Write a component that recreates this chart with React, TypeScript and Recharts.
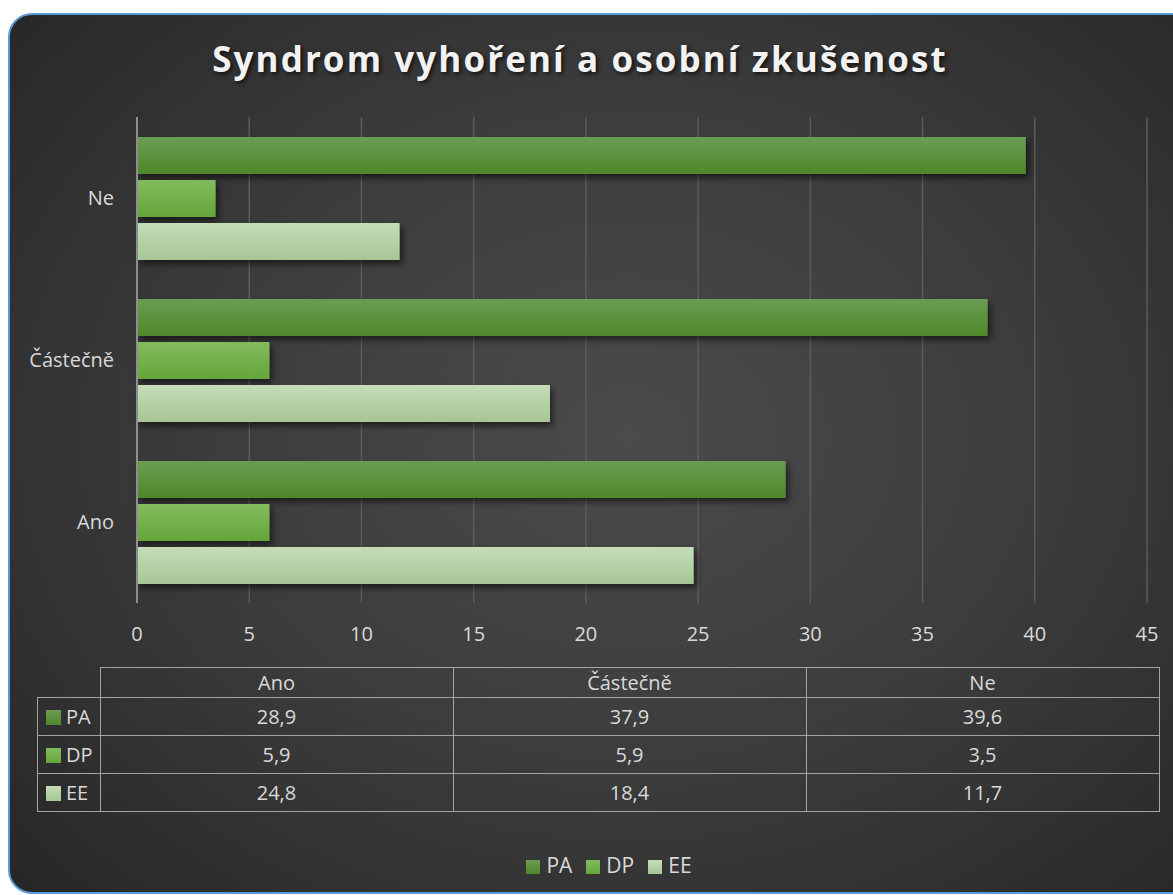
import { BarChart, Bar, XAxis, YAxis, CartesianGrid, Legend } from 'recharts'

// values
const categories = ['Ano', 'Částečně', 'Ne']
const seriesNames = ['PA', 'DP', 'EE']
const paValues = [28.9, 37.9, 39.6]
const dpValues = [5.9, 5.9, 3.5]
const eeValues = [24.8, 18.4, 11.7]
const xTicks = [0, 5, 10, 15, 20, 25, 30, 35, 40, 45]

const seriesValues: Record<string, number[]> = { PA: paValues, DP: dpValues, EE: eeValues }

const data = categories.map((category, i) => ({
  category,
  PA: paValues[i],
  DP: dpValues[i],
  EE: eeValues[i],
}))

const gradients: Record<string, [string, string]> = {
  PA: ['#6c9c54', '#4d8829'],
  DP: ['#82bb5e', '#65a63a'],
  EE: ['#c4ddb7', '#a7c596'],
}

const textColor = '#d9d9d9'
const lineColor = '#a3a3a3'
const fmt = (v: number) => v.toFixed(1).replace('.', ',')

export default function App() {
  const cellBorder = `1.5px solid ${lineColor}`
  return (
    <div
      style={{
        position: 'fixed',
        left: 0,
        top: 0,
        width: 1173,
        height: 895,
        overflow: 'hidden',
        background: '#ffffff',
        fontFamily: "'Open Sans', sans-serif",
      }}
    >
      <style>{`body{margin:0;overflow:hidden}`}</style>

      {/* rounded dark panel */}
      <div
        style={{
          position: 'absolute',
          left: 8,
          top: 13,
          width: 1190,
          height: 881,
          boxSizing: 'border-box',
          borderRadius: 24,
          border: '2px solid #5b9bd5',
          background: 'radial-gradient(ellipse 70% 75% at 52% 48%, #4b4b4b 0%, #3c3c3c 50%, #272727 100%)',
        }}
      />

      <svg width={0} height={0} style={{ position: 'absolute' }}>
        <defs>
          {seriesNames.map(name => (
            <linearGradient key={name} id={`grad${name}`} x1="0" y1="0" x2="0" y2="1">
              <stop offset="0%" stopColor={gradients[name][0]} />
              <stop offset="100%" stopColor={gradients[name][1]} />
            </linearGradient>
          ))}
          <filter id="barShadow" x="-10%" y="-30%" width="130%" height="190%">
            <feDropShadow dx="3" dy="4" stdDeviation="3" floodColor="#000" floodOpacity="0.55" />
          </filter>
        </defs>
      </svg>

      <div
        style={{
          position: 'absolute',
          left: 0,
          width: 1160,
          top: 35,
          textAlign: 'center',
          color: '#f2f2f2',
          fontWeight: 700,
          fontSize: 35,
          letterSpacing: 2.1,
          textShadow: '2px 2px 4px rgba(0,0,0,0.7)',
        }}
      >
        Syndrom vyhoření a osobní zkušenost
      </div>

      <div style={{ position: 'absolute', left: 0, top: 0 }}>
        <BarChart
          width={1173}
          height={895}
          data={data}
          layout="vertical"
          margin={{ top: 117, right: 26, bottom: 262, left: 0 }}
          barSize={37}
          barGap={6}
        >
          <CartesianGrid horizontal={false} stroke="#5c5c5c" strokeWidth={1.5} />
          <XAxis
            type="number"
            domain={[0, 45]}
            ticks={xTicks}
            height={30}
            axisLine={false}
            tickLine={false}
            tickSize={0}
            tickMargin={24}
            tick={{ fill: textColor, fontSize: 20 }}
          />
          <YAxis
            type="category"
            dataKey="category"
            reversed
            width={137}
            axisLine={{ stroke: '#8e8e8e', strokeWidth: 2 }}
            tickLine={false}
            tickSize={0}
            tickMargin={23}
            tick={{ fill: textColor, fontSize: 20 }}
          />
          <Legend
            layout="horizontal"
            verticalAlign="middle"
            align="center"
            iconType="square"
            iconSize={14}
            itemSorter={(item: any) => seriesNames.indexOf(item.value)}
            wrapperStyle={{ top: 851, left: 14, width: 1204, fontSize: 21 }}
            formatter={(value: string) => (
              <span style={{ color: textColor, marginLeft: 2, marginRight: 4 }}>{value}</span>
            )}
          />
          {seriesNames.map(name => (
            <Bar
              key={name}
              dataKey={name}
              fill={`url(#grad${name})`}
              filter="url(#barShadow)"
              isAnimationActive={false}
            />
          ))}
        </BarChart>
      </div>

      {/* data table */}
      <table
        style={{
          position: 'absolute',
          left: 37,
          top: 667,
          borderCollapse: 'collapse',
          color: textColor,
          fontSize: 20,
          tableLayout: 'fixed',
        }}
      >
        <tbody>
          <tr style={{ height: 30 }}>
            <td style={{ width: 62, padding: 0, border: 'none' }} />
            {categories.map(c => (
              <td key={c} style={{ width: 352, padding: 0, border: cellBorder, textAlign: 'center', lineHeight: '26px' }}>
                {c}
              </td>
            ))}
          </tr>
          {seriesNames.map(name => (
            <tr key={name} style={{ height: 38 }}>
              <td style={{ padding: '0 0 0 8px', border: cellBorder, whiteSpace: 'nowrap' }}>
                <span
                  style={{
                    display: 'inline-block',
                    width: 15,
                    height: 15,
                    marginRight: 5,
                    verticalAlign: '-1px',
                    background: `linear-gradient(${gradients[name][0]}, ${gradients[name][1]})`,
                  }}
                />
                {name}
              </td>
              {seriesValues[name].map((v, i) => (
                <td key={i} style={{ padding: 0, border: cellBorder, textAlign: 'center', lineHeight: '26px' }}>
                  {fmt(v)}
                </td>
              ))}
            </tr>
          ))}
        </tbody>
      </table>
    </div>
  )
}
